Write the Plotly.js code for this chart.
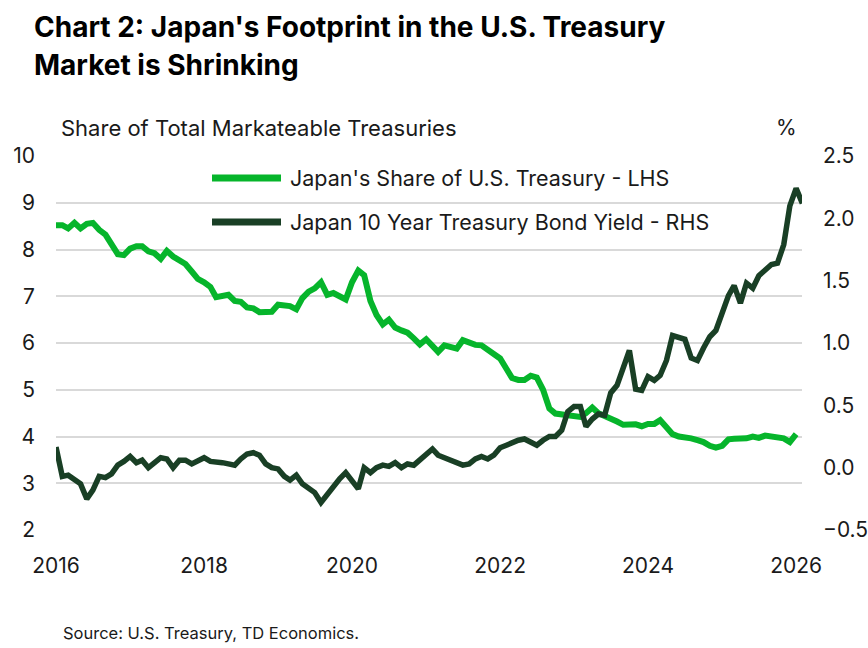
<!DOCTYPE html>
<html>
<head>
<meta charset="utf-8">
<script src="https://cdn.plot.ly/plotly-3.0.1.min.js"></script>
<style>
  html, body { margin: 0; padding: 0; background: #ffffff; }
  #chart { width: 868px; height: 648px; }
</style>
</head>
<body>
<div id="chart"></div>
<script>
  // monthly, starting Jan 2016
  const startYear = 2016;

  // Japan's share of total marketable U.S. Treasuries (%), LHS
  const japanShare = [
    8.52, 8.52, 8.45, 8.57, 8.45, 8.55, 8.57, 8.42, 8.32, 8.1, 7.9, 7.88,
    8.02, 8.07, 8.07, 7.96, 7.92, 7.8, 7.97, 7.85, 7.76, 7.69, 7.53, 7.37,
    7.3, 7.2, 6.98, 7.0, 7.03, 6.9, 6.88, 6.76, 6.74, 6.66, 6.66, 6.67,
    6.82, 6.79, 6.79, 6.72, 6.96, 7.1, 7.17, 7.3, 7.03, 7.07, 7.0, 6.93,
    7.3, 7.55, 7.45, 6.9, 6.6, 6.4, 6.5, 6.33, 6.27, 6.22, 6.1, 5.97,
    6.08, 5.94, 5.81, 5.95, 5.9, 5.88, 6.06, 6.0, 5.96, 5.95, 5.85, 5.75,
    5.67, 5.45, 5.25, 5.21, 5.21, 5.3, 5.26, 5.0, 4.6, 4.49, 4.48, 4.47,
    4.46, 4.42, 4.5, 4.62, 4.5, 4.44, 4.41, 4.32, 4.25, 4.25, 4.26, 4.22,
    4.27, 4.27, 4.35, 4.2, 4.05, 4.0, 3.99, 3.96, 3.92, 3.88, 3.8, 3.76,
    3.8, 3.94, 3.95, 3.95, 3.96, 4.0, 3.97, 4.02, 4.01, 4.0, 3.96, 3.88, 4.05
  ];

  // Japan 10 year government bond yield (%), RHS
  const jgbYield = [
    0.165, -0.07, -0.06, -0.09, -0.13, -0.25, -0.18, -0.07, -0.08, -0.05, 0.02, 0.05,
    0.09, 0.04, 0.06, 0.0, 0.04, 0.08, 0.07, 0.0, 0.06, 0.06, 0.03, 0.06,
    0.08, 0.05, 0.04, 0.04, 0.03, 0.02, 0.07, 0.11, 0.12, 0.1, 0.03, 0.0,
    -0.01, -0.07, -0.1, -0.06, -0.13, -0.17, -0.2, -0.28, -0.21, -0.15, -0.09, -0.04,
    -0.1, -0.17, 0.0, -0.04, 0.0, 0.02, 0.01, 0.04, 0.0, 0.03, 0.02, 0.06,
    0.1, 0.15, 0.1, 0.08, 0.07, 0.05, 0.02, 0.03, 0.07, 0.09, 0.07, 0.1,
    0.16, 0.18, 0.2, 0.22, 0.23, 0.2, 0.18, 0.22, 0.25, 0.25, 0.3, 0.45,
    0.49, 0.49, 0.33, 0.39, 0.43, 0.42, 0.6, 0.66, 0.8, 0.94, 0.63, 0.62,
    0.73, 0.7, 0.74, 0.86, 1.06, 1.05, 1.03, 0.88, 0.86, 0.96, 1.05, 1.1,
    1.23, 1.38, 1.46, 1.32, 1.48, 1.44, 1.54, 1.58, 1.63, 1.64, 1.79, 2.1, 2.24, 2.12
  ];

  const yearTicks = ["2016", "2018", "2020", "2022", "2024", "2026"];

  const seriesNames = [
    "Japan's Share of U.S. Treasury - LHS",
    "Japan 10 Year Treasury Bond Yield - RHS",
  ];

  const green = "#06b52b";
  const darkGreen = "#193f25";
  const font = "Inter, 'Noto Sans', sans-serif";
  const textColor = "#1a1a1a";

  function monthDates(count) {
    const out = [];
    for (let i = 0; i < count; i += 1) {
      const y = startYear + Math.floor(i / 12);
      const m = (i % 12) + 1;
      out.push(`${y}-${String(m).padStart(2, "0")}-01`);
    }
    return out;
  }

  const traces = [
    {
      x: monthDates(jgbYield.length),
      y: jgbYield,
      yaxis: "y2",
      mode: "lines",
      name: seriesNames[1],
      line: { color: darkGreen, width: 5.5 },
      hoverinfo: "skip",
    },
    {
      x: monthDates(japanShare.length),
      y: japanShare,
      yaxis: "y",
      mode: "lines",
      name: seriesNames[0],
      line: { color: green, width: 6 },
      hoverinfo: "skip",
    },
  ];

  // plot area in pixels: x 56..802, y 156..530
  const px = (v) => (v - 56) / 746;
  const py = (v) => (530 - v) / 374;

  const annotations = [
    { text: "Chart 2: Japan's Footprint in the U.S. Treasury", x: px(32), y: py(27), size: 28, weight: 700, color: "#000" },
    { text: "Market is Shrinking", x: px(32), y: py(65), size: 28, weight: 700, color: "#000" },
    { text: "Share of Total Markateable Treasuries", x: px(59), y: py(128), size: 22, weight: 400, color: textColor },
    { text: seriesNames[0], x: px(288), y: py(178), size: 21.5, weight: 400, color: textColor },
    { text: seriesNames[1], x: px(288), y: py(222), size: 21.5, weight: 400, color: textColor },
    { text: "Source: U.S. Treasury, TD Economics.", x: px(61), y: py(633), size: 16.5, weight: 400, color: textColor },
  ].map((a) => ({
    text: a.text,
    xref: "paper",
    yref: "paper",
    x: a.x,
    y: a.y,
    xanchor: "left",
    yanchor: "middle",
    showarrow: false,
    font: { family: font, size: a.size, weight: a.weight, color: a.color },
  }));

  annotations.push({
    text: "%",
    xref: "paper",
    yref: "paper",
    x: px(799),
    y: py(128),
    xanchor: "right",
    yanchor: "middle",
    showarrow: false,
    font: { family: font, size: 21, color: textColor },
  });

  const shapes = [
    { color: green, y: py(178) },
    { color: darkGreen, y: py(222) },
  ].map((s) => ({
    type: "line",
    xref: "paper",
    yref: "paper",
    x0: px(212),
    x1: px(281),
    y0: s.y,
    y1: s.y,
    line: { color: s.color, width: 7 },
  }));

  const tickFont = { family: font, size: 21, color: textColor };

  const layout = {
    width: 868,
    height: 648,
    margin: { l: 56, r: 66, t: 156, b: 118 },
    paper_bgcolor: "#ffffff",
    plot_bgcolor: "#ffffff",
    showlegend: false,
    font: { family: font, size: 20, color: textColor },
    xaxis: {
      type: "date",
      range: ["2016-01-01", "2026-01-30"],
      tickvals: yearTicks.map((y) => `${y}-01-01`),
      ticktext: yearTicks,
      showgrid: false,
      zeroline: false,
      showline: false,
      ticks: "",
      ticklabelstandoff: 21,
      tickfont: tickFont,
    },
    yaxis: {
      range: [2, 10],
      dtick: 1,
      showgrid: true,
      gridcolor: "#d9d9d9",
      gridwidth: 2,
      zeroline: false,
      showline: false,
      ticks: "",
      ticklabelstandoff: 20,
      tickfont: tickFont,
    },
    yaxis2: {
      overlaying: "y",
      side: "right",
      range: [-0.5, 2.5],
      dtick: 0.5,
      tickformat: ".1f",
      showgrid: false,
      zeroline: false,
      showline: false,
      ticks: "",
      ticklabelstandoff: 20,
      tickfont: tickFont,
    },
    annotations: annotations,
    shapes: shapes,
  };

  Plotly.newPlot("chart", traces, layout, { staticPlot: true, displayModeBar: false });
</script>
</body>
</html>
